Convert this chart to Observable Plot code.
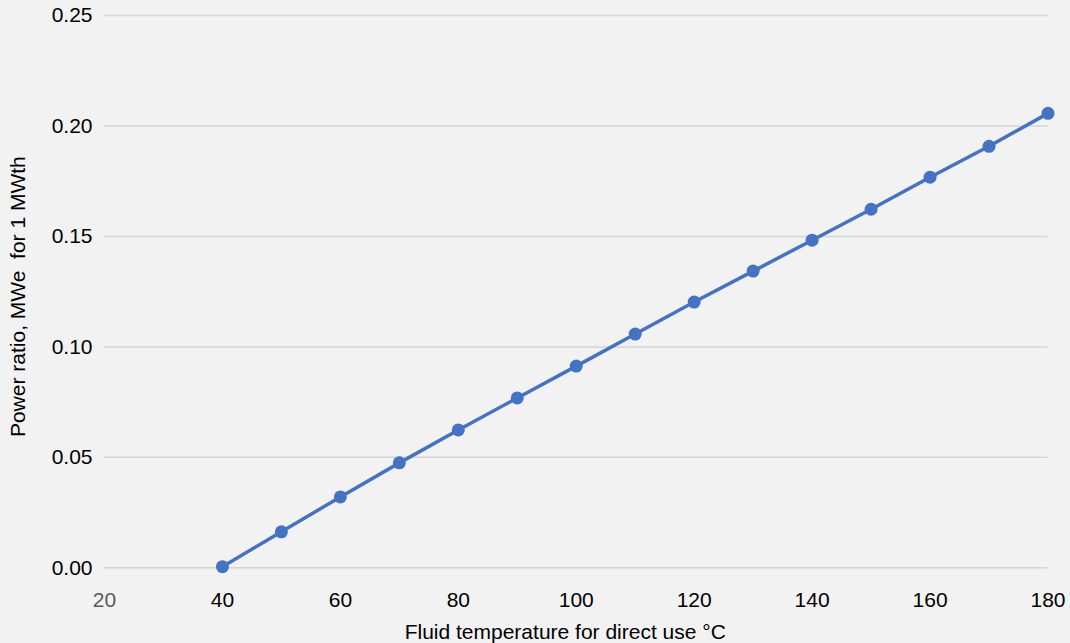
<!DOCTYPE html>
<html><head><meta charset="utf-8">
<script src="https://cdn.jsdelivr.net/npm/d3@7"></script>
<script src="https://cdn.jsdelivr.net/npm/@observablehq/plot@0.6"></script>
<style>
html,body{margin:0;padding:0;background:#f2f2f2;}
#chart svg{display:block;background:#f2f2f2;}
</style></head>
<body><div id="chart"></div>
<script>
const temperature = [40, 50, 60, 70, 80, 90, 100, 110, 120, 130, 140, 150, 160, 170, 180];
const powerRatio = [0.0005, 0.0163, 0.0321, 0.0475, 0.0624, 0.0769, 0.0913, 0.1058, 0.1203, 0.1343, 0.1483, 0.1623, 0.1768, 0.1908, 0.2057];
const xTicks = [20, 40, 60, 80, 100, 120, 140, 160, 180];
const yTicks = [0, 0.05, 0.10, 0.15, 0.20, 0.25];
const xLabel = "Fluid temperature for direct use °C";
const yLabel = "Power ratio, MWe  for 1 MWth";

const data = temperature.map((t, i) => ({t, v: powerRatio[i]}));
const color = "#4472c4";

const chart = Plot.plot({
  width: 1070, height: 643,
  marginLeft: 104, marginRight: 22.5, marginTop: 15, marginBottom: 75.7,
  style: {background: "#f2f2f2", fontFamily: "'Liberation Sans', Helvetica, Arial, sans-serif", fontSize: "21px", color: "#000"},
  x: {domain: [20, 180], axis: null},
  y: {domain: [0, 0.25], axis: null},
  marks: [
    Plot.ruleY(yTicks, {stroke: "#d6d6d6", strokeWidth: 1.5}),
    Plot.axisY(yTicks, {tickSize: 0, tickPadding: 12, tickFormat: d3.format(".2f"), fontSize: 21, fill: "#000", label: null}),
    Plot.text(xTicks, {x: d => d, frameAnchor: "bottom", lineAnchor: "middle", dy: 32, text: d => String(d), fontSize: 21, fill: d => d === 20 ? "#595959" : "#000"}),
    Plot.line(data, {x: "t", y: "v", stroke: color, strokeWidth: 3.5}),
    Plot.dot(data, {x: "t", y: "v", r: 6.5, fill: color, stroke: "none"}),
    Plot.text([xLabel], {frameAnchor: "bottom", lineAnchor: "middle", dx: -11, dy: 64, text: d => d, fontSize: 21, fill: "#000"}),
    Plot.text([yLabel], {frameAnchor: "left", textAnchor: "middle", dx: -86, dy: 5, rotate: -90, text: d => d, fontSize: 21, fill: "#000"})
  ]
});
document.getElementById("chart").appendChild(chart);
</script></body></html>
